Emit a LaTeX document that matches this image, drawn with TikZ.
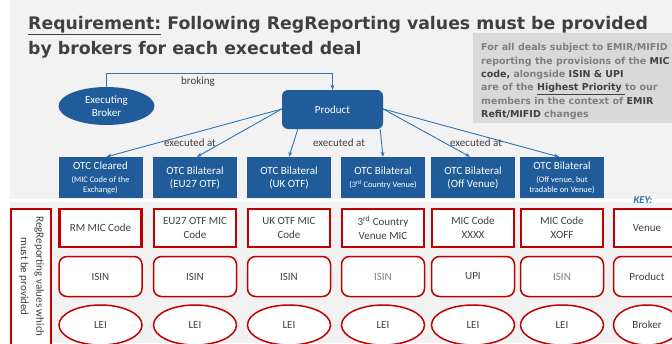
\documentclass[tikz,border=0pt]{standalone}
\usepackage{fontspec}
\setmainfont{Carlito}
\newfontfamily\verd{DejaVu Sans}
\usetikzlibrary{shapes.geometric,arrows.meta,calc}
\definecolor{bg}{HTML}{F2F2F2}
\definecolor{dblue}{HTML}{1F5C99}
\definecolor{lblue}{HTML}{2E75B6}
\definecolor{myred}{HTML}{C00000}
\definecolor{txt}{HTML}{404040}
\definecolor{greybox}{HTML}{D9D9D9}
\definecolor{greytxt}{HTML}{7F7F7F}
\newcommand{\dk}[1]{\textcolor{txt}{#1}}
\newcommand{\smf}{\fontsize{8.4}{10}\selectfont}
\begin{document}
\begin{tikzpicture}[x=1pt,y=-1pt,
  ttl/.style={anchor=base west,text=txt,inner sep=0pt,font=\verd\bfseries\fontsize{17.3}{25}\selectfont},
  gtx/.style={anchor=base west,text=greytxt,inner sep=0pt,font=\verd\bfseries\fontsize{9.5}{13}\selectfont},
  conn/.style={draw=lblue,line width=0.9pt,-{Stealth[length=5pt,width=4pt]}},
  lbl/.style={text=txt,font=\fontsize{11}{13}\selectfont,inner sep=1pt},
  vbox/.style={fill=dblue,minimum width=84pt,minimum height=41pt,text=white,align=center,inner sep=1pt,font=\fontsize{11}{13}\selectfont},
  venue/.style={draw=myred,line width=2.2pt,fill=white,minimum width=82pt,minimum height=38pt,text=txt,align=center,inner sep=1pt,font=\fontsize{11}{14}\selectfont},
  prod/.style={draw=myred,line width=1.5pt,fill=white,rounded corners=8pt,minimum width=83pt,minimum height=40pt,text=txt,align=center,inner sep=1pt,font=\fontsize{11}{14}\selectfont},
  brok/.style={ellipse,draw=myred,line width=1.5pt,fill=white,minimum width=83pt,minimum height=40pt,text=txt,align=center,inner sep=0pt,font=\fontsize{11}{14}\selectfont}
]
\useasboundingbox (0,0) rectangle (672,343);
\fill[bg] (0,0) rectangle (672,343);
\fill[white] (0,0) rectangle (10,343);
\fill[white] (0,198.5) rectangle (672,201.5);

% title
\node[ttl] (t1) at (28,29) {\underline{Requirement:} Following RegReporting values must be provided};
\node[ttl] (t2) at (28,54) {by brokers for each executed deal};

% grey note
\fill[greybox] (473,33) rectangle (672,123);
\node[gtx] (g1) at (481,50.7) {For all deals subject to EMIR/MIFID};
\node[gtx] (g2) at (481,64) {reporting the provisions of the \dk{MIC}};
\node[gtx] (g3) at (481,77.3) {\dk{code,} alongside \dk{ISIN \& UPI}};
\node[gtx] (g4) at (481,90.6) {are of the \dk{\underline{Highest Priority }}to our};
\node[gtx] (g5) at (481,104) {members in the context of \dk{EMIR}};
\node[gtx] (g6) at (481,117.3) {\dk{Refit/MIFID} changes};

% broker and product
\node[ellipse,fill=dblue,minimum width=96pt,minimum height=38pt,inner sep=0pt,text=white,align=center,font=\fontsize{11}{13}\selectfont] (broker) at (106.5,106) {Executing\\Broker};
\node[fill=dblue,rounded corners=6pt,minimum width=101pt,minimum height=39pt,text=white,font=\fontsize{11}{13}\selectfont] (product) at (332.5,109.5) {Product};
\coordinate (bk) at (0,73);
\draw[conn] (broker.north) -- (broker.north |- bk) -| (product.north);
\node[lbl] (lbroking) at (198,82) {broking};

% venue boxes
\node[vbox] (b1) at (100.5,177.5) {OTC Cleared\\{\smf (MIC Code of the}\\[-3pt]{\smf Exchange)}};
\node[vbox] (b2) at (195,177.5) {OTC Bilateral\\(EU27 OTF)};
\node[vbox] (b3) at (289,177.5) {OTC Bilateral\\(UK OTF)};
\node[vbox] (b4) at (383,177.5) {OTC Bilateral\\{\smf (3\textsuperscript{rd} Country Venue)}};
\node[vbox] (b5) at (473,177.5) {OTC Bilateral\\(Off Venue)};
\node[vbox] (b6) at (562,177.5) {OTC Bilateral\\{\smf (Off venue, but}\\[-3pt]{\smf tradable on Venue)}};

% connectors
\draw[conn] ($(product.west)+(0,-0.5)$) -- ($(b1.north)+(6,0)$);
\draw[conn] ($(product.west)+(0,-0.5)$) -- ($(b2.north)+(2,0)$);
\draw[conn] ($(product.south west)+(16,0)$) -- (b3.north);
\draw[conn] ($(product.south east)+(-3,0)$) -- (b4.north);
\draw[conn] ($(product.east)+(0,-0.5)$) -- ($(b5.north)+(-3,0)$);
\draw[conn] ($(product.east)+(0,-0.5)$) -- ($(b6.north)+(-3,0)$);
\node[lbl] (ex1) at (190,143) {executed at};
\node[lbl] (ex2) at (339,143) {executed at};
\node[lbl] (ex3) at (476,143) {executed at};

% left label box
\node[draw=myred,line width=2pt,fill=white,minimum width=40pt,minimum height=150pt,inner sep=0pt] (lbox) at (31,284) {};
\node[rotate=-90,align=center,text=txt,font=\fontsize{11}{15.5}\selectfont,inner sep=0pt] (ltext) at (31.5,276.5) {RegReporting values which\\must be provided};

% row 1: venue
\node[venue] (v1) at (100.5,228) {RM MIC Code};
\node[venue] (v2) at (195,228) {EU27 OTF MIC\\Code};
\node[venue] (v3) at (289,228) {UK OTF MIC\\Code};
\node[venue] (v4) at (383,228) {3\textsuperscript{rd} Country\\Venue MIC};
\node[venue] (v5) at (473,228) {MIC Code\\XXXX};
\node[venue] (v6) at (562,228) {MIC Code\\XOFF};
% row 2: product
\node[prod] (p1) at (100.5,276.5) {ISIN};
\node[prod] (p2) at (195,276.5) {ISIN};
\node[prod] (p3) at (289,276.5) {ISIN};
\node[prod,text=greytxt] (p4) at (383,276.5) {ISIN};
\node[prod] (p5) at (473,276.5) {UPI};
\node[prod,text=greytxt] (p6) at (562,276.5) {ISIN};
% row 3: broker
\node[brok] (l1) at (100.5,325) {LEI};
\node[brok] (l2) at (195,325) {LEI};
\node[brok] (l3) at (289,325) {LEI};
\node[brok] (l4) at (383,325) {LEI};
\node[brok] (l5) at (473,325) {LEI};
\node[brok] (l6) at (562,325) {LEI};

% key
\node[text=lblue,font=\bfseries\itshape\fontsize{10.5}{12}\selectfont,inner sep=0pt] (key) at (643,200) {KEY:};
\node[venue,minimum width=66pt] (kv) at (647,228) {Venue};
\node[prod,minimum width=67pt] (kp) at (647,276.5) {Product};
\node[brok,minimum width=67pt] (kb) at (647,325) {Broker};
\end{tikzpicture}
\end{document}
